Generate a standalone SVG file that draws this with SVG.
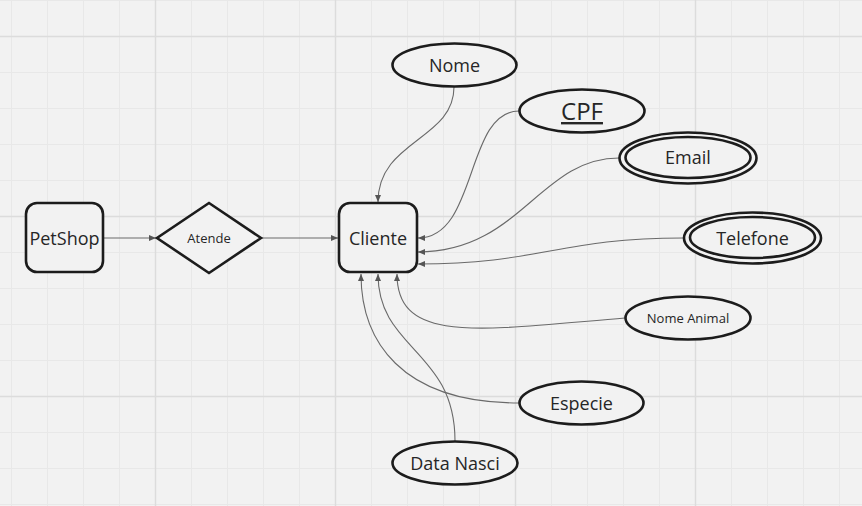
<svg xmlns="http://www.w3.org/2000/svg" width="862" height="506" viewBox="0 0 862 506">
<defs>
<pattern id="minor" x="11" y="0" width="36" height="36" patternUnits="userSpaceOnUse">
<path d="M0.5 0V36M0 0.5H36" stroke="#e8e8e8" stroke-width="1" fill="none"/>
</pattern>
<marker id="arr" viewBox="0 0 8 8" refX="7" refY="4" markerWidth="8" markerHeight="8" markerUnits="userSpaceOnUse" orient="auto">
<path d="M0,1 L7,4 L0,7 Z" fill="#555"/>
</marker>
</defs>
<style>
.shape{fill:#f2f2f2;stroke:#1c1c1c;stroke-width:2.6}
.lbl{font-family:"Open Sans","Liberation Sans",sans-serif;fill:#262626;text-anchor:middle}
.conn path{fill:none;stroke:#6a6a6a;stroke-width:1.1;marker-end:url(#arr)}
.major{stroke:#dcdcdc;stroke-width:1.4}
</style>
<rect width="862" height="506" fill="#f2f2f2"/>
<rect width="862" height="506" fill="url(#minor)"/>
<g class="major">
<line x1="155.5" y1="0" x2="155.5" y2="506"/>
<line x1="335.5" y1="0" x2="335.5" y2="506"/>
<line x1="515.5" y1="0" x2="515.5" y2="506"/>
<line x1="695.5" y1="0" x2="695.5" y2="506"/>
<line x1="0" y1="36.5" x2="862" y2="36.5"/>
<line x1="0" y1="216.5" x2="862" y2="216.5"/>
<line x1="0" y1="396.5" x2="862" y2="396.5"/>
</g>

<g id="connectors" class="conn">
<path d="M103,238 H156"/>
<path d="M261,238 H338"/>
<path d="M454,87 C454,140 378,140 378,202"/>
<path d="M519,111 C465,111 478,238 418,238"/>
<path d="M619,158 C540,158 520,252 418,252"/>
<path d="M683,238 C560,238 540,264 418,264"/>
<path d="M625,318 C480,330 397,345 397,274"/>
<path d="M519,403 C400,403 361,340 361,274"/>
<path d="M455,441 C455,350 378,350 378,274"/>
</g>

<g id="petshop">
<rect class="shape" x="26" y="203" width="77" height="69" rx="11"/>
<text class="lbl" x="64.5" y="244.5" font-size="18">PetShop</text>
</g>
<g id="atende">
<polygon class="shape" points="209,203 261,238 209,273 157,238"/>
<text class="lbl" x="209" y="243" font-size="13">Atende</text>
</g>
<g id="cliente">
<rect class="shape" x="339" y="203" width="78" height="69" rx="11"/>
<text class="lbl" x="378" y="244.5" font-size="18">Cliente</text>
</g>
<g id="nome">
<ellipse class="shape" cx="454.5" cy="65" rx="62" ry="21.5"/>
<text class="lbl" x="454.5" y="71.5" font-size="18">Nome</text>
</g>
<g id="cpf">
<ellipse class="shape" cx="582" cy="111" rx="62.5" ry="21.5"/>
<text class="lbl" x="582" y="120" font-size="24" text-decoration="underline">CPF</text>
</g>
<g id="email">
<ellipse class="shape" cx="688" cy="158" rx="68.5" ry="25.5"/>
<ellipse class="shape" cx="688" cy="157.5" rx="62.5" ry="20.5"/>
<text class="lbl" x="688" y="164" font-size="18">Email</text>
</g>
<g id="telefone">
<ellipse class="shape" cx="752.5" cy="238" rx="68.5" ry="25.5"/>
<ellipse class="shape" cx="752.5" cy="237.5" rx="62.5" ry="20.5"/>
<text class="lbl" x="752.5" y="244.5" font-size="18">Telefone</text>
</g>
<g id="nome-animal">
<ellipse class="shape" cx="688" cy="318" rx="62.5" ry="21.5"/>
<text class="lbl" x="688" y="323" font-size="13">Nome Animal</text>
</g>
<g id="especie">
<ellipse class="shape" cx="581.5" cy="403" rx="62" ry="21.5"/>
<text class="lbl" x="581.5" y="409.5" font-size="18">Especie</text>
</g>
<g id="data-nasci">
<ellipse class="shape" cx="455" cy="463" rx="62.5" ry="21.5"/>
<text class="lbl" x="455" y="469.5" font-size="18">Data Nasci</text>
</g>
</svg>
